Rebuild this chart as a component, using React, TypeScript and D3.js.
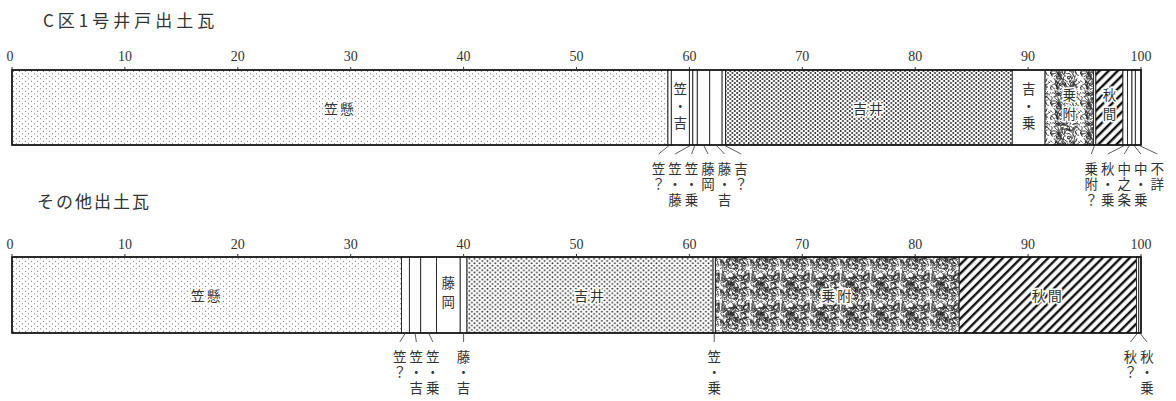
import React, { useEffect, useRef } from "react";
import * as d3 from "d3";

// percentages
const ticks = [0, 10, 20, 30, 40, 50, 60, 70, 80, 90, 100];

const topTitle = "C区1号井戸出土瓦";
const topNames = ["笠懸", "笠？", "笠・吉", "笠・藤", "笠・乗", "藤岡", "藤・吉", "吉？", "吉井", "吉・乗", "乗附", "乗附？", "秋間", "秋・乗", "中之条", "中・乗", "不詳"];
const topValues = [58.1, 0.3, 1.6, 0.3, 0.4, 1.1, 1.1, 0.3, 25.4, 2.9, 4.3, 0.2, 2.4, 0.4, 0.4, 0.3, 0.5];

const bottomTitle = "その他出土瓦";
const bottomNames = ["笠懸", "笠？", "笠・吉", "笠・乗", "藤岡", "藤・吉", "吉井", "笠・乗", "乗附", "秋間", "秋？", "秋・乗"];
const bottomValues = [34.5, 0.7, 1.0, 1.4, 2.1, 0.6, 21.8, 0.2, 21.6, 15.7, 0.2, 0.2];

const topFills: Record<string, string> = { "笠懸": "sparse", "吉井": "dense", "乗附": "noise", "秋間": "hatch" };
const bottomFills: Record<string, string> = { "笠懸": "sparse", "吉井": "dots", "乗附": "noiseDark", "秋間": "hatch" };

const W = 1176;
const H = 401;
const CJK = "'Noto Sans CJK JP', sans-serif";
const SERIF = "'Liberation Serif', 'DejaVu Serif', serif";

function dotPattern(defs: any, id: string, w: number, h: number, r: number, color: string) {
    const p = defs.append("pattern").attr("id", id)
        .attr("patternUnits", "userSpaceOnUse").attr("width", w).attr("height", h);
    p.append("rect").attr("width", w).attr("height", h).attr("fill", "#fff");
    p.append("circle").attr("cx", w * 0.25).attr("cy", h * 0.25).attr("r", r).attr("fill", color);
    p.append("circle").attr("cx", w * 0.75).attr("cy", h * 0.75).attr("r", r).attr("fill", color);
}

// texture only, seeded so it is the same every time
function noisePattern(defs: any, id: string, size: number, count: number, seed: number, sw: number, step: number) {
    const rnd = d3.randomLcg(seed);
    const p = defs.append("pattern").attr("id", id)
        .attr("patternUnits", "userSpaceOnUse").attr("width", size).attr("height", size);
    p.append("rect").attr("width", size).attr("height", size).attr("fill", "#fff");
    const line = d3.line().curve(d3.curveBasis);
    for (let i = 0; i < count; i++) {
        let a = rnd() * Math.PI * 2;
        const pts: [number, number][] = [[rnd() * size, rnd() * size]];
        for (let k = 0; k < 4; k++) {
            a += (rnd() - 0.5) * 2.8;
            const last = pts[pts.length - 1];
            pts.push([last[0] + Math.cos(a) * step, last[1] + Math.sin(a) * step]);
        }
        p.append("path").attr("d", line(pts)).attr("fill", "none")
            .attr("stroke", "#222").attr("stroke-width", sw);
    }
}

// one text element, written top to bottom
function vText(g: any, x: number, y: number, s: string, halo: boolean, spacing: number) {
    return g.append("text")
        .attr("x", x).attr("y", y)
        .style("writing-mode", "vertical-rl")
        .attr("text-anchor", "start")
        .attr("font-family", CJK).attr("font-size", 13.5).attr("fill", "#333")
        .attr("letter-spacing", spacing)
        .attr("stroke", halo ? "#fff" : "none").attr("stroke-width", 3)
        .attr("paint-order", "stroke")
        .text(s);
}

function drawBar(svg: any, x: any, names: string[], values: number[], fills: Record<string, string>,
    title: string, titleX: number, titleY: number, tickY: number, y0: number, y1: number, titleSpacing: number) {

    svg.append("text")
        .attr("x", titleX).attr("y", titleY)
        .attr("font-family", CJK).attr("font-size", 17).attr("fill", "#333")
        .attr("letter-spacing", titleSpacing)
        .text(title);

    const g = svg.append("g");

    let acc = 0;
    const segs = names.map((n, i) => {
        const s = { name: n, a: acc, b: acc + values[i] };
        acc += values[i];
        return s;
    });

    g.selectAll("rect.seg")
        .data(segs)
        .enter()
        .append("rect")
        .attr("x", (d: any) => x(d.a))
        .attr("y", y0)
        .attr("width", (d: any) => x(d.b) - x(d.a))
        .attr("height", y1 - y0)
        .attr("fill", (d: any) => fills[d.name] ? `url(#${fills[d.name]})` : "#fff")
        .attr("stroke", "#222")
        .attr("stroke-width", 0.9);

    g.append("rect")
        .attr("x", x(0)).attr("y", y0)
        .attr("width", x(100) - x(0)).attr("height", y1 - y0)
        .attr("fill", "none").attr("stroke", "#111").attr("stroke-width", 1.6);

    // axis ticks on the top edge
    g.selectAll("line.tick")
        .data(ticks)
        .enter()
        .append("line")
        .attr("x1", (d: number) => x(d)).attr("x2", (d: number) => x(d))
        .attr("y1", y0 - 3).attr("y2", y0)
        .attr("stroke", "#333").attr("stroke-width", 1);

    g.selectAll("text.tick")
        .data(ticks)
        .enter()
        .append("text")
        .attr("x", (d: number) => x(d) - (d === 0 ? 2 : 0))
        .attr("y", tickY)
        .attr("text-anchor", "middle")
        .attr("dominant-baseline", "central")
        .attr("font-family", SERIF).attr("font-size", 14).attr("fill", "#333")
        .text((d: number) => d);

    const mid = (y0 + y1) / 2;
    const outside: any[] = [];

    segs.forEach(s => {
        const w = x(s.b) - x(s.a);
        const cx = (x(s.a) + x(s.b)) / 2;
        const patterned = !!fills[s.name];
        if (w >= 100) {
            g.append("text")
                .attr("x", cx).attr("y", mid)
                .attr("text-anchor", "middle").attr("dominant-baseline", "central")
                .attr("font-family", CJK).attr("font-size", 14).attr("fill", "#333")
                .attr("letter-spacing", 2)
                .attr("stroke", patterned ? "#fff" : "none").attr("stroke-width", 3)
                .attr("paint-order", "stroke")
                .text(s.name);
        } else if (w >= 17) {
            const n = Array.from(s.name).length;
            const step = n > 2 ? 17 : 19;
            vText(g, cx, mid - (n * step) / 2, s.name, patterned, step - 13.5);
        } else {
            outside.push({ name: s.name, cx, lx: cx });
        }
    });

    // spread labels of thin strips so they do not overlap
    const gap = 16.5;
    const groups = outside.map(o => [o]);
    let moved = true;
    while (moved) {
        moved = false;
        groups.forEach(gr => {
            const m = d3.mean(gr, (o: any) => o.cx) as number;
            gr.forEach((o: any, k: number) => { o.lx = m + (k - (gr.length - 1) / 2) * gap; });
        });
        for (let i = 0; i < groups.length - 1; i++) {
            const a = groups[i][groups[i].length - 1];
            const b = groups[i + 1][0];
            if (b.lx - a.lx < gap) {
                groups[i] = groups[i].concat(groups[i + 1]);
                groups.splice(i + 1, 1);
                moved = true;
                break;
            }
        }
    }

    outside.forEach(o => {
        g.append("line")
            .attr("x1", o.cx).attr("y1", y1)
            .attr("x2", o.lx).attr("y2", y1 + 9)
            .attr("stroke", "#333").attr("stroke-width", 0.8);
        vText(g, o.lx, y1 + 17, o.name, false, 2);
    });
}

const App = () => {
    const chartRef = useRef<HTMLDivElement>(null);

    useEffect(() => {
        d3.select(chartRef.current).select("svg").remove();

        const svg = d3.select(chartRef.current)
            .append("svg")
            .attr("width", W)
            .attr("height", H)
            .style("display", "block")
            .style("background", "#fff");

        const defs = svg.append("defs");
        dotPattern(defs, "sparse", 6, 5, 0.6, "#666");
        dotPattern(defs, "dense", 4.6, 4, 0.95, "#1a1a1a");
        dotPattern(defs, "dots", 5.2, 4.6, 0.95, "#333");
        noisePattern(defs, "noise", 30, 130, 7, 0.9, 1.6);
        noisePattern(defs, "noiseDark", 30, 150, 11, 0.9, 1.7);
        const hatch = defs.append("pattern").attr("id", "hatch")
            .attr("patternUnits", "userSpaceOnUse").attr("width", 6.4).attr("height", 10)
            .attr("patternTransform", "rotate(45)");
        hatch.append("rect").attr("width", 6.4).attr("height", 10).attr("fill", "#fff");
        hatch.append("line").attr("x1", 2).attr("x2", 2).attr("y1", -1).attr("y2", 11)
            .attr("stroke", "#111").attr("stroke-width", 2.4);

        const x = d3.scaleLinear().domain([0, 100]).range([12, 1141]);

        drawBar(svg, x, topNames, topValues, topFills, topTitle, 43, 27, 56, 70, 145, 4);
        drawBar(svg, x, bottomNames, bottomValues, bottomFills, bottomTitle, 37, 208, 244, 257, 333, 2);
    }, []);

    return (
        <div style={{ position: "absolute", left: 0, top: 0 }}>
            <div ref={chartRef}></div>
        </div>
    );
};

export default App;
